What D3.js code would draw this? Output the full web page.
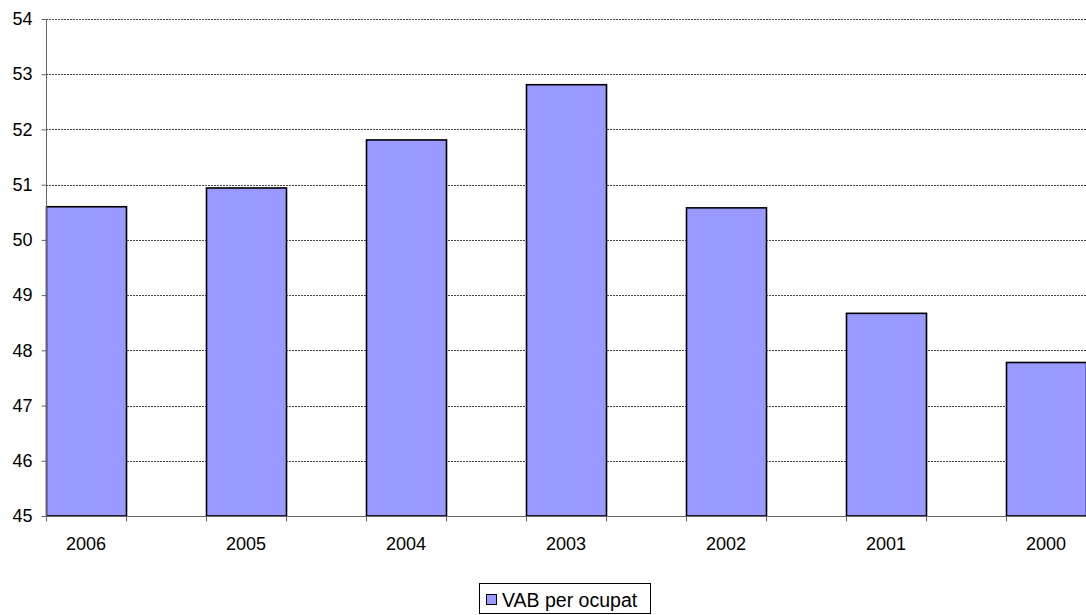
<!DOCTYPE html>
<html>
<head>
<meta charset="utf-8">
<script src="https://cdn.jsdelivr.net/npm/d3@7/dist/d3.min.js"></script>
<style>
  html, body { margin: 0; padding: 0; background: #fff; }
  svg { display: block; font-family: Arial, "Liberation Sans", sans-serif; }
</style>
</head>
<body>
<svg id="chart" width="1086" height="615"></svg>
<script>
// VAB per ocupat, by year
const years = ["2006", "2005", "2004", "2003", "2002", "2001", "2000"];
const values = [50.60, 50.94, 51.81, 52.81, 50.58, 48.67, 47.78];
const yTicks = [45, 46, 47, 48, 49, 50, 51, 52, 53, 54];
const seriesName = "VAB per ocupat";

// Category slots: each year is followed by an empty slot of the same width
const slots = [];
years.forEach((y, i) => {
  slots.push({ key: "y" + i, label: y, value: values[i] });
  if (i < years.length - 1) slots.push({ key: "g" + i, label: "", value: null });
});

const svg = d3.select("#chart");
const margin = { left: 46, top: 19, right: 0, bottom: 99 };
const W = 1086, H = 615;
const plotW = W - margin.left - margin.right;
const plotH = H - margin.top - margin.bottom;

const x = d3.scaleBand().domain(slots.map(d => d.key)).range([margin.left, margin.left + plotW]).padding(0);
const y = d3.scaleLinear().domain([45, 54]).range([margin.top + plotH, margin.top]);

// Dotted horizontal gridlines
svg.append("g")
  .selectAll("line")
  .data(yTicks.filter(t => t > 45))
  .join("line")
  .attr("x1", margin.left)
  .attr("x2", W)
  .attr("y1", d => Math.round(y(d)) + 0.5)
  .attr("y2", d => Math.round(y(d)) + 0.5)
  .attr("stroke", "#444")
  .attr("stroke-width", 1)
  .attr("stroke-dasharray", "2,1");

// Bars
svg.append("g")
  .selectAll("rect")
  .data(slots.filter(d => d.value !== null))
  .join("rect")
  .attr("x", d => x(d.key) + 0.5)
  .attr("y", d => y(d.value))
  .attr("width", x.bandwidth())
  .attr("height", d => y(45) - y(d.value))
  .attr("fill", "#9999FF")
  .attr("stroke", "#000")
  .attr("stroke-width", 1.6);

// Y axis
const yAxis = svg.append("g")
  .attr("transform", `translate(${margin.left + 0.5},0)`)
  .call(d3.axisLeft(y).tickValues(yTicks).tickSize(5).tickPadding(9).tickFormat(d3.format("d")));
yAxis.select(".domain").attr("stroke", "#666").attr("d", `M0,${y(54)}V${y(45)}`);
yAxis.selectAll(".tick line").attr("stroke", "#666");
yAxis.selectAll(".tick text").attr("font-size", 18).attr("fill", "#000")
  .attr("font-family", "Arial, 'Liberation Sans', sans-serif");

// X axis: tick marks at every slot boundary, labels centred under the years
const xBase = Math.round(y(45)) + 0.5;
svg.append("line")
  .attr("x1", margin.left).attr("x2", W)
  .attr("y1", xBase).attr("y2", xBase)
  .attr("stroke", "#666");
const boundaries = slots.map(d => x(d.key));
svg.append("g")
  .selectAll("line")
  .data(boundaries)
  .join("line")
  .attr("x1", d => Math.round(d) + 0.5)
  .attr("x2", d => Math.round(d) + 0.5)
  .attr("y1", xBase)
  .attr("y2", xBase + 5)
  .attr("stroke", "#666");
svg.append("g")
  .selectAll("text")
  .data(slots.filter(d => d.label !== ""))
  .join("text")
  .attr("x", d => x(d.key) + x.bandwidth() / 2)
  .attr("y", 550)
  .attr("text-anchor", "middle")
  .attr("font-size", 18)
  .attr("fill", "#000")
  .text(d => d.label);

// Legend
const legend = svg.append("g");
legend.append("rect")
  .attr("x", 479.5).attr("y", 583.5)
  .attr("width", 171).attr("height", 30)
  .attr("fill", "#fff").attr("stroke", "#000");
legend.append("rect")
  .attr("x", 486.5).attr("y", 594.5)
  .attr("width", 10).attr("height", 10)
  .attr("fill", "#9999FF").attr("stroke", "#000");
legend.append("text")
  .attr("x", 502).attr("y", 607)
  .attr("font-size", 19.5)
  .attr("fill", "#000")
  .text(seriesName);
</script>
</body>
</html>
